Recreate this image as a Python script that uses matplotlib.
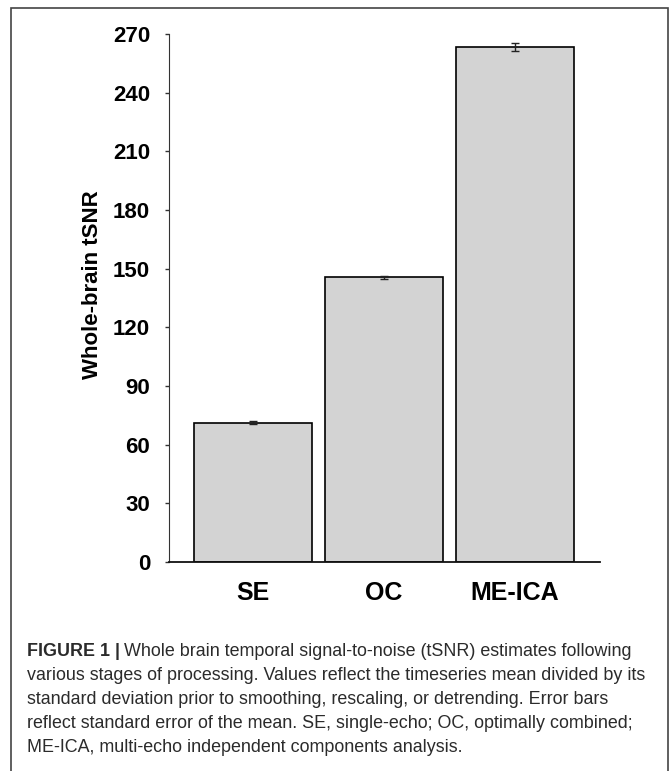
import matplotlib.pyplot as plt
from matplotlib.patches import Rectangle

# data
stages = ['SE', 'OC', 'ME-ICA']
tsnr_mean = [71.3, 145.5, 263.5]
tsnr_sem = [0.6, 1.0, 2.0]
yticks = [0, 30, 60, 90, 120, 150, 180, 210, 240, 270]

caption_lines = [
    "Whole brain temporal signal-to-noise (tSNR) estimates following",
    "various stages of processing. Values reflect the timeseries mean divided by its",
    "standard deviation prior to smoothing, rescaling, or detrending. Error bars",
    "reflect standard error of the mean. SE, single-echo; OC, optimally combined;",
    "ME-ICA, multi-echo independent components analysis.",
]

plt.rcParams['font.family'] = ['Liberation Sans', 'DejaVu Sans']

W, H = 670, 771
fig = plt.figure(figsize=(W / 100, H / 100), dpi=100)

# frame around figure + caption (open at the bottom)
fig.patches.append(Rectangle((11 / W, -0.05), 657 / W, 1.05 - 8 / H,
                             transform=fig.transFigure, fill=False,
                             edgecolor='#444444', linewidth=1.2))

# axes: x from 169 to 600 px, y from 34 (270) to 562 (0)
ax = fig.add_axes([169 / W, 1 - 562 / H, (600 - 169) / W, (562 - 34) / H])
x = range(len(stages))
ax.bar(x, tsnr_mean, width=0.9, color='#d3d3d3', edgecolor='black',
       linewidth=1.2, yerr=tsnr_sem, capsize=3,
       error_kw=dict(elinewidth=1, ecolor='#222222', capthick=1))

ax.set_xlim(-0.64, 2.65)
ax.set_ylim(0, 270)
ax.set_yticks(yticks)
ax.set_yticklabels([str(t) for t in yticks], fontsize=16, fontweight='bold')
ax.set_xticks(list(x))
ax.set_xticklabels(stages, fontsize=18, fontweight='bold')
ax.tick_params(axis='x', length=0, pad=14)
ax.tick_params(axis='y', length=3, width=1, direction='out', pad=10.5, color='#333333')
ax.spines['top'].set_visible(False)
ax.spines['right'].set_visible(False)
ax.spines['left'].set_color('#333333')
ax.spines['bottom'].set_color('#111111')
ax.spines['bottom'].set_linewidth(1.3)

fig.text(92 / W, 1 - 285 / H, 'Whole-brain tSNR', rotation=90, fontsize=16,
         fontweight='bold', ha='center', va='center')

# caption
cap_color = '#2b2b2b'
y0 = 651
fs = 12.9
t = fig.text(27 / W, 1 - y0 / H, 'FIGURE 1 |', fontsize=fs, fontweight='bold',
             color=cap_color, ha='left', va='center')
fig.canvas.draw()
bb = t.get_window_extent()
fig.text((bb.x1 + 4) / W, 1 - y0 / H, caption_lines[0], fontsize=fs,
         color=cap_color, ha='left', va='center')
for i, line in enumerate(caption_lines[1:]):
    fig.text(27 / W, 1 - (y0 + 24 * (i + 1)) / H, line, fontsize=fs,
             color=cap_color, ha='left', va='center')

fig.savefig('out.png', dpi=100)
